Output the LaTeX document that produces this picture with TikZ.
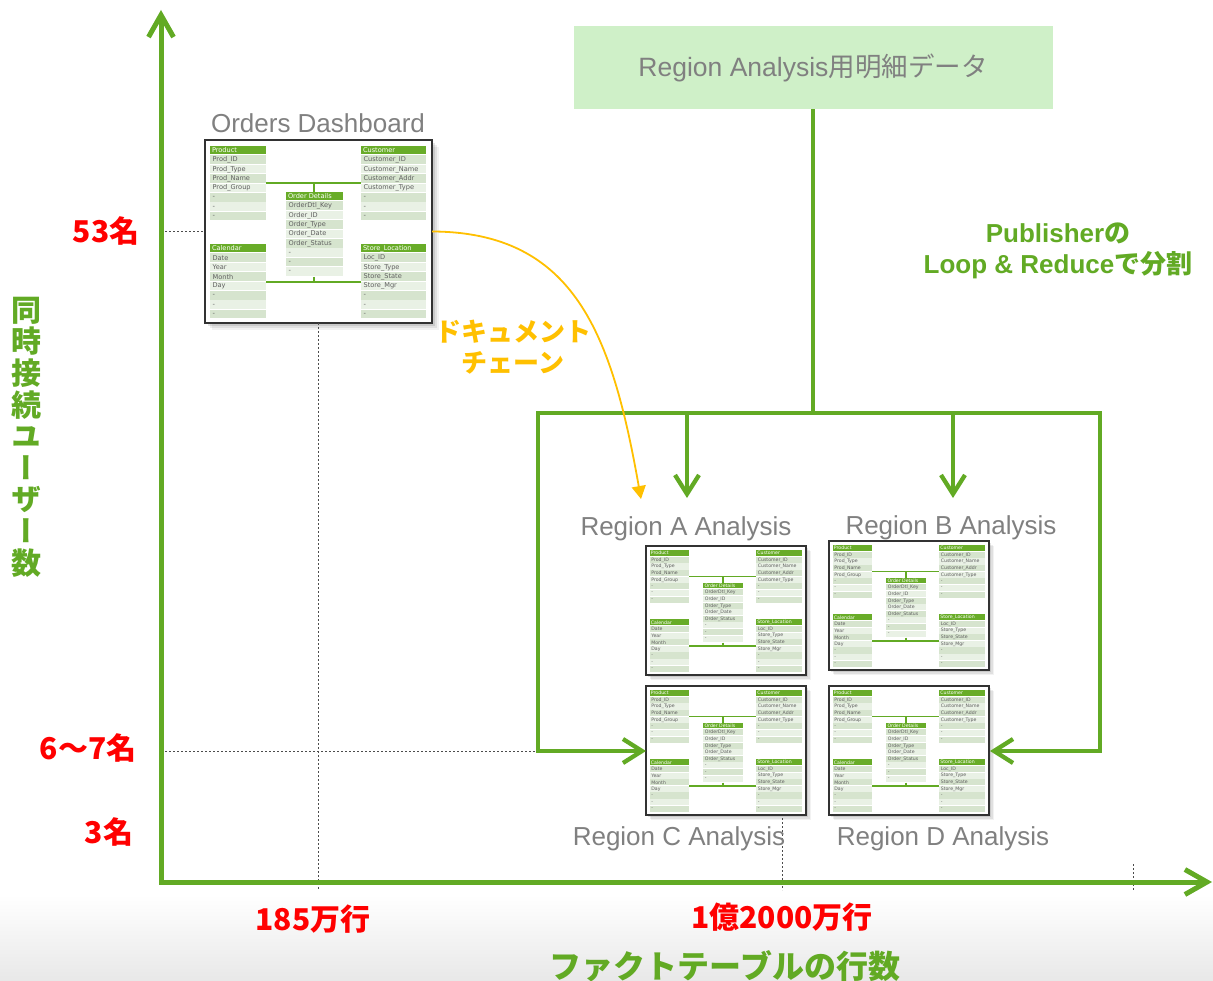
\documentclass[tikz,border=0pt]{standalone}
\usepackage{fontspec}
\setmainfont{Liberation Sans}
\newfontfamily\jp{Noto Sans CJK JP}
\newfontfamily\jpv{Noto Sans CJK JP}[RawFeature=+vert]
\newfontfamily\tblfont{DejaVu Sans}
\usetikzlibrary{arrows.meta}

\definecolor{axgreen}{RGB}{98,170,36}
\definecolor{boxgreen}{RGB}{207,240,200}
\definecolor{labgray}{RGB}{128,128,128}
\definecolor{chainorange}{RGB}{255,192,0}
\definecolor{hdrgreen}{RGB}{104,172,40}
\definecolor{rowdark}{RGB}{214,228,206}
\definecolor{rowlight}{RGB}{233,241,229}
\definecolor{rowtext}{RGB}{95,95,95}
\definecolor{framegray}{RGB}{50,50,50}
\definecolor{redlabel}{RGB}{255,0,0}

\tikzset{
  axisline/.style={draw=axgreen, line width=5pt, line join=miter,
    {Straight Barb[length=22pt,width=25pt]}-{Straight Barb[length=22pt,width=25pt]}},
  bus/.style={draw=axgreen, line width=4.3pt, line join=miter},
  barbtip/.style={-{Straight Barb[length=19pt,width=24pt]}},
  guide/.style={draw=black!70, line width=0.8pt, dash pattern=on 2pt off 2pt},
  chain/.style={draw=chainorange, line width=1.8pt, -{Triangle[length=13pt,width=14pt]}},
  thumbframe/.style={draw=framegray, line width=2.5pt, fill=white, inner sep=0pt, outer sep=0pt},
  hdrtext/.style={anchor=west, inner sep=0pt, text=white, font=\tblfont\fontsize{6.6}{6.6}\selectfont},
  rowtextsty/.style={anchor=west, inner sep=0pt, text=rowtext, font=\tblfont\fontsize{6.6}{6.6}\selectfont},
  linkline/.style={draw=axgreen, line width=1.6pt},
  reglabel/.style={text=labgray, font=\fontsize{26}{26}\selectfont, inner sep=0pt},
  redlab/.style={text=redlabel, font=\jp\bfseries\fontsize{30}{30}\selectfont, inner sep=0pt},
  greenlab/.style={text=axgreen, font=\jp\bfseries\fontsize{32}{32}\selectfont, inner sep=0pt},
}

% one table of the data model: prefix, x, y, width, title, rows
\newcommand{\dmtable}[6]{%
  \fill[hdrgreen] (#2,#3) rectangle ++(#4,8.2);
  \node[hdrtext] (#1-h) at (#2+1.8,#3+4.3) {#5};
  \foreach \r [count=\i] in {#6}{%
    \ifodd\i \def\rc{rowdark}\else\def\rc{rowlight}\fi
    \fill[\rc] (#2,#3+9.4*\i) rectangle ++(#4,8.6);
    \node[rowtextsty] (#1-\i) at (#2+2.4,#3+9.4*\i+4.6) {\r};
  }%
}

% a dashboard thumbnail with its data model: name, x, y, scale
\newcommand{\dmthumb}[4]{%
\begin{scope}[shift={(#2,#3)}, scale=#4, transform shape]
  \foreach \o/\a in {7/0.05,5/0.07,3/0.10}
    \fill[black, opacity=\a] (\o,\o) rectangle (227+\o,183+\o);
  \node[thumbframe, anchor=north west, minimum width=227pt, minimum height=183pt] (#1) at (0,0) {};
  \draw[linkline] (61,43) -- (156,43) (109,43) -- (109,52);
  \draw[linkline] (61,142) -- (156,142) (109,137) -- (109,142);
  \dmtable{#1-prod}{5}{6}{56}{Product}{Prod\_ID,Prod\_Type,Prod\_Name,Prod\_Group,-,-,-}
  \dmtable{#1-cust}{156}{6}{65}{Customer}{Customer\_ID,Customer\_Name,Customer\_Addr,Customer\_Type,-,-,-}
  \dmtable{#1-ord}{81}{52}{57}{Order Details}{OrderDtl\_Key,Order\_ID,Order\_Type,Order\_Date,Order\_Status,-,-,-}
  \dmtable{#1-cal}{5}{104}{56}{Calendar}{Date,Year,Month,Day,-,-,-}
  \dmtable{#1-store}{156}{104}{65}{Store\_Location}{Loc\_ID,Store\_Type,Store\_State,Store\_Mgr,-,-,-}
\end{scope}}

\begin{document}
\begin{tikzpicture}[x=1pt, y=-1pt]
\useasboundingbox (0,0) rectangle (1213,981);
\fill[white] (0,0) rectangle (1213,981);
\shade[top color=white, bottom color=black!9] (0,895) rectangle (1213,981);

% axes
\coordinate (O) at (161,882);
\coordinate (Ytop) at (161,10);
\coordinate (Xend) at (1212,882);

% source data and the published split
\node[fill=boxgreen, minimum width=479pt, minimum height=83pt, inner sep=0pt,
      text=labgray, font=\fontsize{26.5}{26.5}\selectfont] (src) at (813,67.5)
      {Region Analysis{\jp 用明細データ}};

% thumbnails
\dmthumb{od}{205}{140}{1}
\dmthumb{thA}{646}{546}{0.705}
\dmthumb{thB}{829}{541}{0.705}
\dmthumb{thC}{646}{686}{0.705}
\dmthumb{thD}{829}{686}{0.705}

% guide lines
\coordinate (g1) at (318.5,890);
\coordinate (g2a) at (782,818);
\coordinate (g2b) at (782,890);
\coordinate (g3a) at (1133,864);
\coordinate (g3b) at (1133,890);
\coordinate (busL) at (538,413);
\coordinate (busR) at (1100,413);
\coordinate (tipA) at (687,498);
\coordinate (tipB) at (953,498);
\coordinate (tipC) at (646,751);
\coordinate (tipD) at (990,751);
\coordinate (tipO) at (641,499);
\draw[guide] (O |- od.east) -- (od.west);
\draw[guide] (O |- tipC) -- (busL |- tipC);
\draw[guide] (od.south) -- (g1);
\draw[guide] (g2a) -- (g2b);
\draw[guide] (g3a) -- (g3b);

\draw[axisline] (Ytop) -- (O) -- (Xend);

\draw[bus] (src.south) -- (src.south |- busL);
\draw[bus, {Straight Barb[length=19pt,width=24pt]}-{Straight Barb[length=19pt,width=24pt]}]
  (tipC) -- (busL |- tipC) -- (busL) -- (busR) -- (busR |- tipD) -- (tipD);
\draw[bus, barbtip] (tipA |- busL) -- (tipA);
\draw[bus, barbtip] (tipB |- busL) -- (tipB);

% document chain
\draw[chain] (od.east) .. controls (575,232) and (612,335) .. (tipO);
\node[text=chainorange, font=\jp\bfseries\fontsize{26}{31}\selectfont, align=center, inner sep=0pt]
  (chainlab) at (513,347) {ドキュメント\\チェーン};

% labels
\node[reglabel] (odlab) at (318,123) {Orders Dashboard};
\node[reglabel] (labA) at (686,529) {Region A Analysis};
\node[reglabel] (labB) at (951,528) {Region B Analysis};
\node[reglabel] (labC) at (679,839) {Region C Analysis};
\node[reglabel] (labD) at (943,839) {Region D Analysis};

\node[text=axgreen, font=\bfseries\fontsize{26}{31}\selectfont, align=center, inner sep=0pt]
  (publab) at (1058,251) {Publisher{\jp の}\\Loop \& Reduce{\jp で分割}};

% axis values
\node[redlab] (v53) at (106,231) {53名};
\node[redlab] (v67) at (88,748) {6〜7名};
\node[redlab] (v3) at (109,832) {3名};
\node[redlab] (r185) at (313,919) {185万行};
\node[redlab] (r12k) at (782,917) {1億2000万行};

% axis titles
\node[greenlab] (xtitle) at (725,966) {ファクトテーブルの行数};
\node[text=axgreen, font=\jpv\bfseries\fontsize{30}{31.6}\selectfont, align=center, inner sep=0pt]
  (ytitle) at (27,437) {同\\時\\接\\続\\ユ\\ー\\ザ\\ー\\数};
\end{tikzpicture}
\end{document}
